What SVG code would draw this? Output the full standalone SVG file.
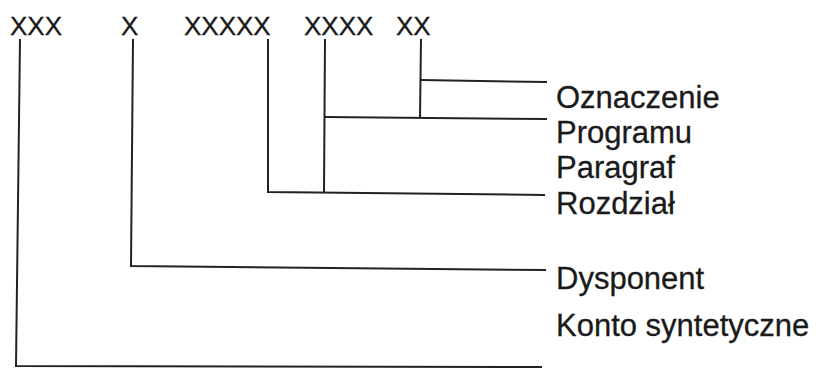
<svg xmlns="http://www.w3.org/2000/svg" width="819" height="369" viewBox="0 0 819 369">
<style>
.code{font-family:"Liberation Sans",Arial,sans-serif;font-size:26px;fill:#1a1a1a;stroke:#1a1a1a;stroke-width:0.3}
.lab{font-family:"Liberation Sans",Arial,sans-serif;font-size:31px;fill:#1a1a1a;stroke:#1a1a1a;stroke-width:0.3}
.ln{fill:none;stroke:#222;stroke-width:2;stroke-linejoin:miter}
</style>
<rect width="819" height="369" fill="#fff"/>
<g id="codes">
<text id="c-xxx" class="code" x="10" y="35">XXX</text>
<text id="c-x" class="code" x="121" y="35">X</text>
<text id="c-xxxxx" class="code" x="184" y="35">XXXXX</text>
<text id="c-xxxx" class="code" x="304" y="35">XXXX</text>
<text id="c-xx" class="code" x="396" y="35">XX</text>
</g>
<g id="labels">
<text id="l-ozn" class="lab" x="556" y="108">Oznaczenie</text>
<text id="l-prog" class="lab" x="556" y="143">Programu</text>
<text id="l-par" class="lab" x="556" y="178">Paragraf</text>
<text id="l-roz" class="lab" x="556" y="214">Rozdział</text>
<text id="l-dys" class="lab" x="556" y="289">Dysponent</text>
<text id="l-konto" class="lab" x="556" y="336">Konto syntetyczne</text>
</g>
<g id="connectors">
<polyline class="ln" points="20,39 16,366 542,367"/>
<polyline class="ln" points="133,39 131,266 546,270"/>
<polyline class="ln" points="268,39 268,192 545,195"/>
<polyline class="ln" points="325,39 324,192"/>
<polyline class="ln" points="421,39 420,118"/>
<line class="ln" x1="325" y1="117" x2="547" y2="119"/>
<line class="ln" x1="421" y1="80" x2="547" y2="82"/>
</g>
</svg>
